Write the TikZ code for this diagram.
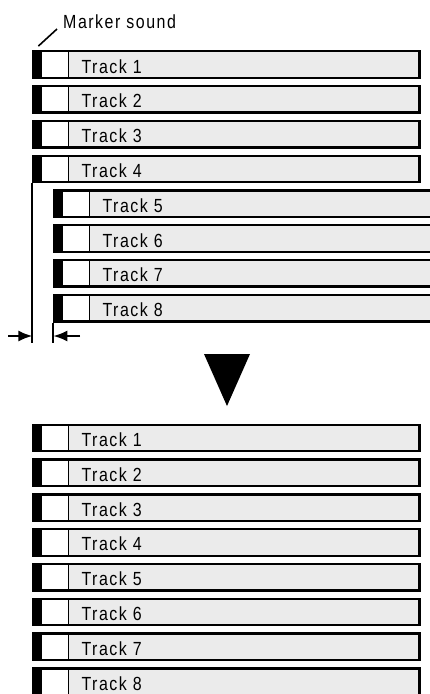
\documentclass[tikz,border=0pt]{standalone}
\usepackage{fontspec}
\usepackage{tikz}
\usetikzlibrary{positioning, arrows.meta}
\newfontfamily\trkfont{Liberation Sans}[FakeStretch=0.84, LetterSpace=8]

\begin{document}
\begin{tikzpicture}[
  x=1pt, y=-1pt,
  font=\trkfont\fontsize{19}{22}\selectfont,
  node distance=6pt,
  track/.style={draw, line width=2.3pt, fill=black!8, minimum width=386pt,
    minimum height=26.5pt, inner sep=0pt,
    path picture={
      \fill[black] (path picture bounding box.south west)
        rectangle ([xshift=8pt]path picture bounding box.north west);
      \fill[white] ([xshift=8pt]path picture bounding box.south west)
        rectangle ([xshift=35pt]path picture bounding box.north west);
      \draw[line width=1.8pt] ([xshift=35pt]path picture bounding box.south west)
        -- ([xshift=35pt]path picture bounding box.north west);
    }},
  lbl/.style={inner sep=0pt, anchor=base west, yshift=-8.5pt},
  dimln/.style={line width=1.9pt},
  dimarr/.style={-{Latex[length=14pt, width=11pt]}, line width=1.9pt},
]
  \useasboundingbox (0,0) rectangle (430,694);
  \clip (0,0) rectangle (430,694);

  % Before: tracks 5-8 start later
  \node[track] (t1) at (226.5,64.5) {};
  \node[track, below=of t1] (t2) {};
  \node[track, below=of t2] (t3) {};
  \node[track, below=of t3] (t4) {};
  \node[track, below=of t4, xshift=21pt] (t5) {};
  \node[track, below=of t5] (t6) {};
  \node[track, below=of t6] (t7) {};
  \node[track, below=of t7] (t8) {};

  \node[inner sep=0pt, anchor=base west] (mk) at (63,28) {Marker sound};
  \draw[line width=1.6pt] ([shift={(-6,1)}]mk.base west)
    -- ([shift={(6,-4)}]t1.north west);

  % Offset between the two groups
  \coordinate (dl) at (8,336);
  \coordinate (dr) at (80,336);
  \draw[dimln] (t4.south west) -- ([yshift=-7pt]t4.south west |- dl);
  \draw[dimln] (t8.south west) -- ([yshift=-7pt]t8.south west |- dl);
  \draw[dimarr] (dl) -- (dl -| t4.west);
  \draw[dimarr] (dr) -- (dr -| t8.west);

  \fill (204,354) -- (250,354) -- (227,406) -- cycle;

  % After: all tracks aligned
  \node[track] (b1) at (226.5,438) {};
  \foreach \i [evaluate=\i as \p using int(\i-1)] in {2,...,8}
    \node[track, below=of b\p] (b\i) {};

  \foreach \i in {1,...,8} {
    \node[right=49pt of t\i.west, lbl] {Track \i};
    \node[right=49pt of b\i.west, lbl] {Track \i};
  }
\end{tikzpicture}
\end{document}
